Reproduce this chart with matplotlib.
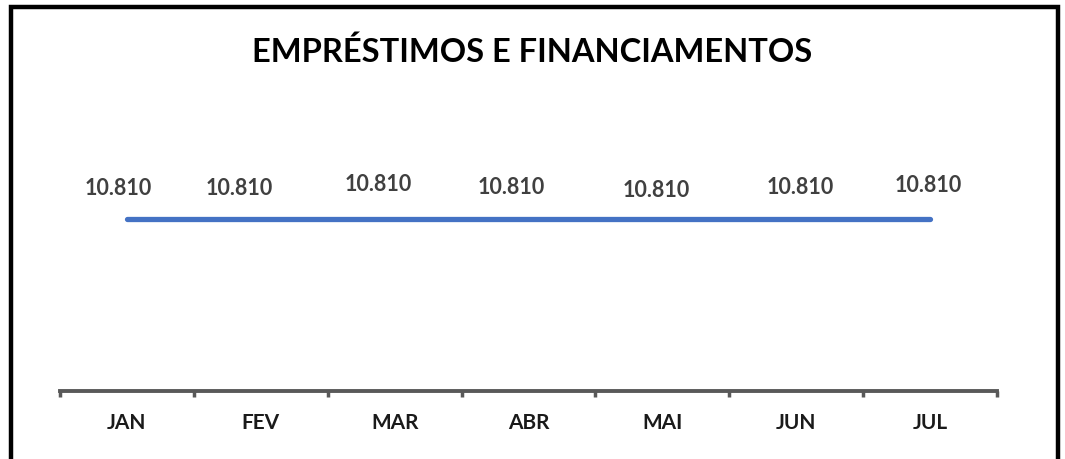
import numpy as np
import matplotlib.pyplot as plt
from matplotlib.lines import Line2D

# dados
meses = ['JAN', 'FEV', 'MAR', 'ABR', 'MAI', 'JUN', 'JUL']
valores = [10810, 10810, 10810, 10810, 10810, 10810, 10810]
rotulos = ['10.810', '10.810', '10.810', '10.810', '10.810', '10.810', '10.810']

# deslocamento manual dos rótulos (pixels), como no gráfico original
desloc = [(-9, 32), (-22, 32), (-16, 36), (-17, 33), (-6, 30), (4, 33), (-2, 35)]

plt.rcParams['font.family'] = ['Lato', 'DejaVu Sans']

fig = plt.figure(figsize=(10.65, 4.6), dpi=100)
ax = fig.add_axes([60 / 1065, 68 / 460, 937 / 1065, 286 / 460])

x = np.arange(len(meses))
ax.plot(x, valores, color='#4472C4', linewidth=3.8, solid_capstyle='round')

for xi, v, txt, (dx, dy) in zip(x, valores, rotulos, desloc):
    ax.annotate(txt, (xi, v), xytext=(dx, dy), textcoords='offset pixels',
                ha='center', va='center', fontsize=15.5, fontweight='bold',
                color='#404040')

ax.set_xlim(-0.5, len(meses) - 0.5)
ax.set_ylim(0, 18000)

for s in ['top', 'right', 'left']:
    ax.spines[s].set_visible(False)
ax.spines['bottom'].set_color('#595959')
ax.spines['bottom'].set_linewidth(2.8)
ax.set_yticks([])

ax.set_xticks(x)
ax.set_xticklabels(meses, fontsize=15, fontweight='bold', color='#1a1a1a')
ax.tick_params(axis='x', which='major', length=0, pad=15)
ax.set_xticks(np.arange(-0.5, len(meses)), minor=True)
ax.tick_params(axis='x', which='minor', length=4, width=2.5, color='#595959')

fig.text(0.5, 1 - 52 / 460, 'EMPRÉSTIMOS E FINANCIAMENTOS', ha='center',
         va='center', fontsize=23.5, fontweight='bold', color='black')

# moldura
fx = [11.3 / 1065, 11.3 / 1065, 1057.5 / 1065, 1057.5 / 1065]
fy = [-0.05, 1 - 8 / 460, 1 - 8 / 460, -0.05]
fig.add_artist(Line2D(fx, fy, transform=fig.transFigure, color='black',
                      linewidth=3.2, solid_joinstyle='miter'))

fig.savefig('out.png', dpi=100)
